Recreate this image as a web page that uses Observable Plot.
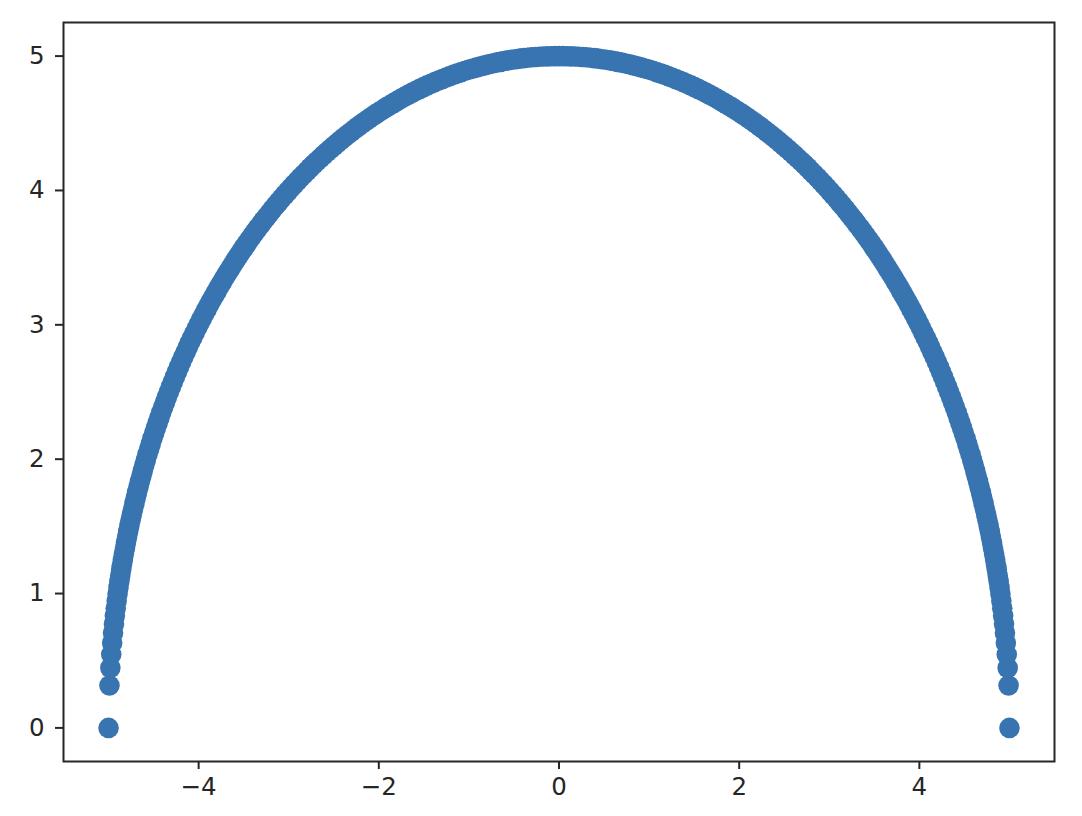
<!DOCTYPE html>
<html>
<head>
<meta charset="utf-8">
<script src="https://cdn.jsdelivr.net/npm/d3@7"></script>
<script src="https://cdn.jsdelivr.net/npm/@observablehq/plot@0.6"></script>
<style>
  html, body { margin: 0; padding: 0; background: #fff; }
  #chart { width: 1082px; height: 816px; }
</style>
</head>
<body>
<div id="chart"></div>
<script>
const leftX = [-5.000,-4.990,-4.980,-4.970,-4.960,-4.950,-4.940,-4.930,-4.920,-4.910,-4.900,-4.890,-4.880,-4.870,-4.860,
-4.852,-4.841,-4.830,-4.818,-4.807,-4.794,-4.782,-4.769,-4.756,-4.742,-4.728,-4.713,-4.699,-4.684,-4.668,-4.652,-4.636,-4.620,-4.603,-4.586,-4.568,-4.550,-4.532,-4.513,-4.494,-4.475,-4.455,-4.435,-4.415,-4.394,-4.373,-4.352,-4.330,-4.308,-4.286,-4.263,-4.240,-4.217,-4.194,-4.170,-4.145,-4.121,-4.096,-4.071,-4.045,-4.020,-3.993,-3.967,-3.940,-3.913,-3.886,-3.858,-3.830,-3.802,-3.774,-3.745,-3.716,-3.687,-3.657,-3.627,-3.597,-3.567,-3.536,
-3.505,-3.474,-3.442,-3.410,-3.378,-3.346,-3.313,-3.281,-3.247,-3.214,-3.181,-3.147,-3.113,-3.079,-3.044,-3.009,-2.974,-2.939,-2.904,-2.868,-2.832,-2.796,-2.760,-2.723,-2.687,-2.650,-2.613,-2.575,-2.538,-2.500,-2.462,-2.424,-2.386,-2.348,-2.309,-2.270,-2.231,-2.192,-2.153,-2.113,-2.074,-2.034,-1.994,-1.954,-1.914,-1.873,-1.833,-1.792,-1.751,-1.710,-1.669,-1.628,-1.587,-1.545,-1.504,-1.462,-1.420,-1.378,-1.336,-1.294,-1.252,-1.210,
-1.167,-1.125,-1.082,-1.040,-0.997,-0.954,-0.911,-0.868,-0.825,-0.782,-0.739,-0.696,-0.653,-0.609,-0.566,-0.523,-0.479,-0.436,-0.392,-0.349,-0.305,-0.262,-0.218,-0.175,-0.131,-0.087,-0.044,0.000];

const leftY = [0.000,0.316,0.447,0.547,0.632,0.706,0.773,0.834,0.891,0.945,0.996,1.044,1.089,1.133,1.176,
1.210,1.252,1.294,1.336,1.378,1.420,1.462,1.504,1.545,1.587,1.628,1.669,1.710,1.751,1.792,1.833,1.873,1.914,1.954,1.994,2.034,2.074,2.113,2.153,2.192,2.231,2.270,2.309,2.348,2.386,2.424,2.462,2.500,2.538,2.575,2.613,2.650,2.687,2.723,2.760,2.796,2.832,2.868,2.904,2.939,2.974,3.009,3.044,3.079,3.113,3.147,3.181,3.214,3.247,3.281,3.313,3.346,3.378,3.410,3.442,3.474,3.505,3.536,
3.567,3.597,3.627,3.657,3.687,3.716,3.745,3.774,3.802,3.830,3.858,3.886,3.913,3.940,3.967,3.993,4.020,4.045,4.071,4.096,4.121,4.145,4.170,4.194,4.217,4.240,4.263,4.286,4.308,4.330,4.352,4.373,4.394,4.415,4.435,4.455,4.475,4.494,4.513,4.532,4.550,4.568,4.586,4.603,4.620,4.636,4.652,4.668,4.684,4.699,4.713,4.728,4.742,4.756,4.769,4.782,4.794,4.807,4.818,4.830,4.841,4.852,
4.862,4.872,4.881,4.891,4.900,4.908,4.916,4.924,4.931,4.939,4.945,4.951,4.957,4.963,4.968,4.973,4.977,4.981,4.985,4.988,4.991,4.993,4.995,4.997,4.998,4.999,5.000,5.000];

const rightX = [5.000,4.990,4.980,4.970,4.960,4.950,4.940,4.930,4.920,4.910,4.900,4.890,4.880,4.870,4.860,
4.852,4.841,4.830,4.818,4.807,4.794,4.782,4.769,4.756,4.742,4.728,4.713,4.699,4.684,4.668,4.652,4.636,4.620,4.603,4.586,4.568,4.550,4.532,4.513,4.494,4.475,4.455,4.435,4.415,4.394,4.373,4.352,4.330,4.308,4.286,4.263,4.240,4.217,4.194,4.170,4.145,4.121,4.096,4.071,4.045,4.020,3.993,3.967,3.940,3.913,3.886,3.858,3.830,3.802,3.774,3.745,3.716,3.687,3.657,3.627,3.597,3.567,3.536,
3.505,3.474,3.442,3.410,3.378,3.346,3.313,3.281,3.247,3.214,3.181,3.147,3.113,3.079,3.044,3.009,2.974,2.939,2.904,2.868,2.832,2.796,2.760,2.723,2.687,2.650,2.613,2.575,2.538,2.500,2.462,2.424,2.386,2.348,2.309,2.270,2.231,2.192,2.153,2.113,2.074,2.034,1.994,1.954,1.914,1.873,1.833,1.792,1.751,1.710,1.669,1.628,1.587,1.545,1.504,1.462,1.420,1.378,1.336,1.294,1.252,1.210,
1.167,1.125,1.082,1.040,0.997,0.954,0.911,0.868,0.825,0.782,0.739,0.696,0.653,0.609,0.566,0.523,0.479,0.436,0.392,0.349,0.305,0.262,0.218,0.175,0.131,0.087,0.044];

const rightY = [0.000,0.316,0.447,0.547,0.632,0.706,0.773,0.834,0.891,0.945,0.996,1.044,1.089,1.133,1.176,
1.210,1.252,1.294,1.336,1.378,1.420,1.462,1.504,1.545,1.587,1.628,1.669,1.710,1.751,1.792,1.833,1.873,1.914,1.954,1.994,2.034,2.074,2.113,2.153,2.192,2.231,2.270,2.309,2.348,2.386,2.424,2.462,2.500,2.538,2.575,2.613,2.650,2.687,2.723,2.760,2.796,2.832,2.868,2.904,2.939,2.974,3.009,3.044,3.079,3.113,3.147,3.181,3.214,3.247,3.281,3.313,3.346,3.378,3.410,3.442,3.474,3.505,3.536,
3.567,3.597,3.627,3.657,3.687,3.716,3.745,3.774,3.802,3.830,3.858,3.886,3.913,3.940,3.967,3.993,4.020,4.045,4.071,4.096,4.121,4.145,4.170,4.194,4.217,4.240,4.263,4.286,4.308,4.330,4.352,4.373,4.394,4.415,4.435,4.455,4.475,4.494,4.513,4.532,4.550,4.568,4.586,4.603,4.620,4.636,4.652,4.668,4.684,4.699,4.713,4.728,4.742,4.756,4.769,4.782,4.794,4.807,4.818,4.830,4.841,4.852,
4.862,4.872,4.881,4.891,4.900,4.908,4.916,4.924,4.931,4.939,4.945,4.951,4.957,4.963,4.968,4.973,4.977,4.981,4.985,4.988,4.991,4.993,4.995,4.997,4.998,4.999,5.000];

const xTicks = [-4, -2, 0, 2, 4];
const yTicks = [0, 1, 2, 3, 4, 5];

const points = [];
for (let i = 0; i < Math.min(leftX.length, leftY.length); i++) points.push({x: leftX[i], y: leftY[i]});
for (let i = 0; i < Math.min(rightX.length, rightY.length); i++) points.push({x: rightX[i], y: rightY[i]});

const fmt = d => (d < 0 ? "\u2212" + Math.abs(d) : String(d));

const chart = Plot.plot({
  width: 1082,
  height: 816,
  marginLeft: 63,
  marginRight: 28,
  marginTop: 22,
  marginBottom: 55,
  style: { fontFamily: "DejaVu Sans", fontSize: "24px", color: "#222", background: "#fff" },
  x: { domain: [-5.5, 5.5] },
  y: { domain: [-0.25, 5.25] },
  marks: [
    Plot.dot(points, { x: "x", y: "y", r: 10.3, fill: "#3874b0", stroke: "none" }),
    Plot.frame({ stroke: "#262626", strokeWidth: 2 }),
    Plot.axisX({ ticks: xTicks, tickFormat: fmt, tickSize: 8, tickPadding: 8, label: null, stroke: "#262626", strokeWidth: 2, fill: "#262626", fontSize: 24.5 }),
    Plot.axisY({ ticks: yTicks, tickFormat: fmt, tickSize: 8, tickPadding: 11, label: null, stroke: "#262626", strokeWidth: 2, fill: "#262626", fontSize: 24.5 })
  ]
});
document.getElementById("chart").appendChild(chart);
</script>
</body>
</html>
